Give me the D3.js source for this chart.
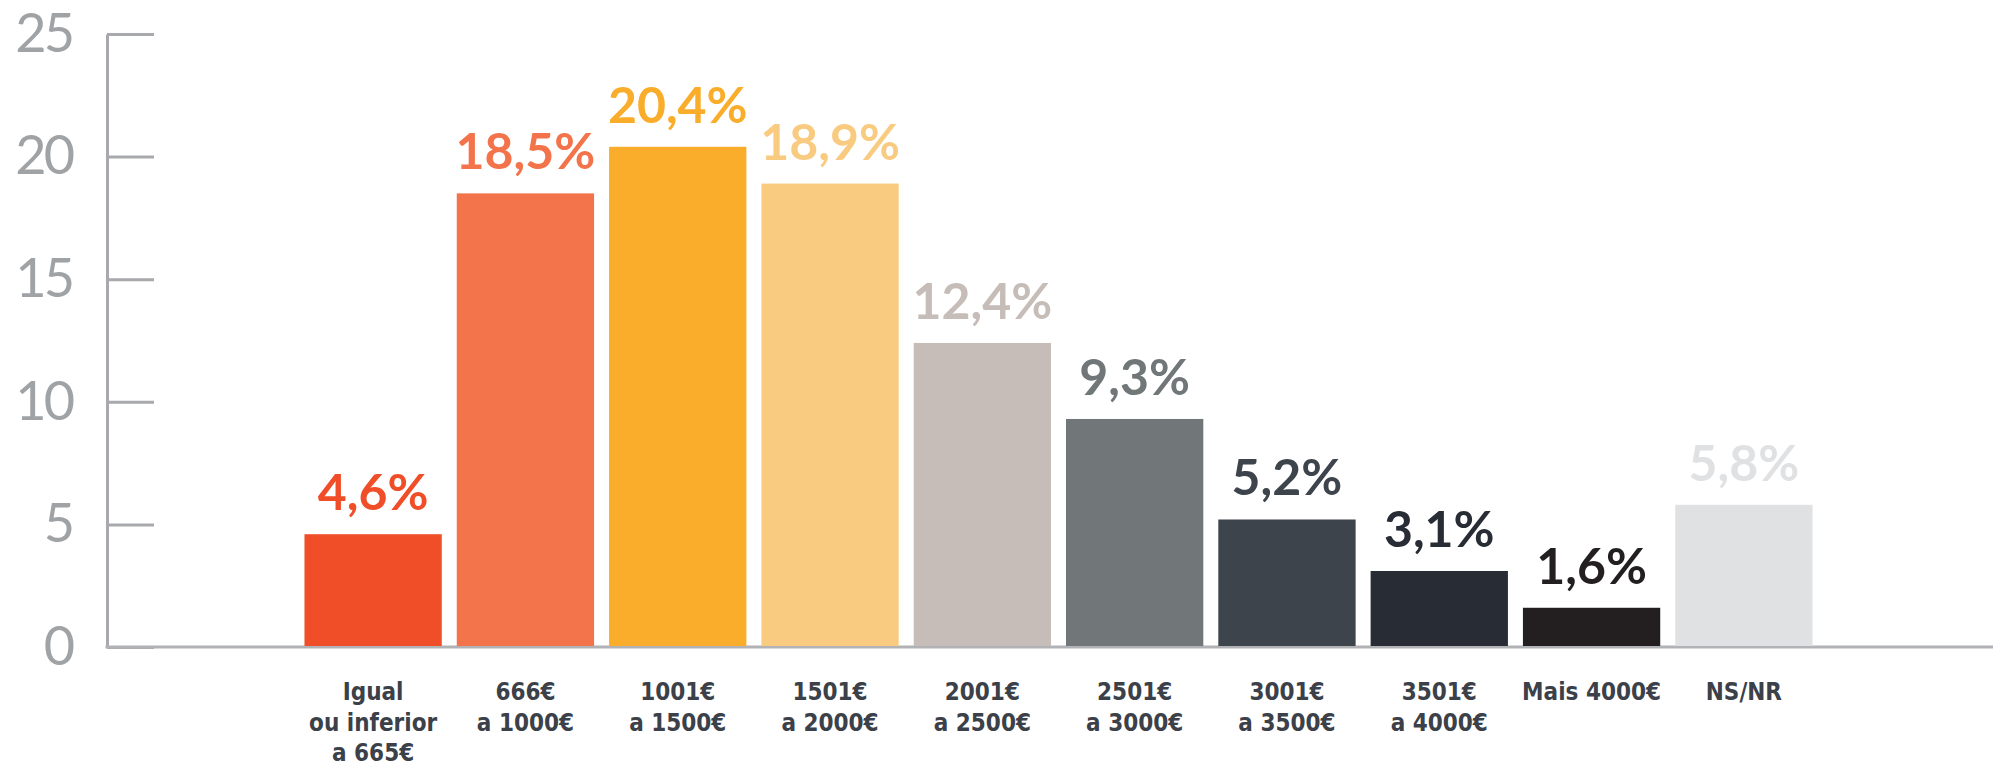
<!DOCTYPE html>
<html>
<head>
<meta charset="utf-8">
<script src="https://cdn.jsdelivr.net/npm/d3@7"></script>
<style>
  html, body { margin: 0; padding: 0; background: #ffffff; }
  svg { display: block; }
</style>
</head>
<body>
<svg id="chart" width="1993" height="766"></svg>
<script>
// ---- data ----
const categories = [
  "Igual\nou inferior\na 665€",
  "666€\na 1000€",
  "1001€\na 1500€",
  "1501€\na 2000€",
  "2001€\na 2500€",
  "2501€\na 3000€",
  "3001€\na 3500€",
  "3501€\na 4000€",
  "Mais 4000€",
  "NS/NR"
];
const values = [4.6, 18.5, 20.4, 18.9, 12.4, 9.3, 5.2, 3.1, 1.6, 5.8];
const barColors = ["#f04e29", "#f3734a", "#f9ad2a", "#f9cb80", "#c6bcb8",
                   "#717779", "#3d444c", "#282c34", "#231f20", "#e0e1e3"];
const yTicks = [0, 5, 10, 15, 20, 25];

// ---- layout ----
const W = 1993, H = 766;
const axisX = 107, baseY = 647, topY = 34;

const svg = d3.select("#chart");

const x = d3.scaleBand()
  .domain(d3.range(categories.length))
  .range([297, 1820])
  .paddingInner(0.0985)
  .paddingOuter(0.049);

const y = d3.scaleLinear().domain([0, 25]).range([baseY, topY]);

const locale = d3.formatLocale({ decimal: ",", thousands: ".", grouping: [3], currency: ["", "€"] });
const fmt = locale.format(".1f");

// y axis
const yAxis = d3.axisLeft(y)
  .tickValues(yTicks)
  .tickSize(-47)
  .tickSizeOuter(0)
  .tickPadding(35)
  .tickFormat(d3.format("d"));

const gy = svg.append("g")
  .attr("transform", `translate(${axisX},0)`)
  .call(yAxis);
gy.select(".domain").attr("stroke", "#a7a9ac").attr("stroke-width", 3);
gy.selectAll(".tick line").attr("stroke", "#a7a9ac").attr("stroke-width", 3);
gy.selectAll(".tick text")
  .attr("fill", "#a0a3a6")
  .style("font-family", "Lato, 'Open Sans', sans-serif")
  .style("font-weight", 400)
  .style("font-size", "54px")
  .style("letter-spacing", "-3px");

// baseline
svg.append("line")
  .attr("x1", axisX - 1.5).attr("x2", W)
  .attr("y1", y(0)).attr("y2", y(0))
  .attr("stroke", "#b0b2b5").attr("stroke-width", 3);

// bars
svg.append("g").selectAll("rect")
  .data(values)
  .join("rect")
  .attr("x", (d, i) => x(i))
  .attr("width", x.bandwidth())
  .attr("y", d => y(d))
  .attr("height", d => y(0) - y(d) - 1)
  .attr("fill", (d, i) => barColors[i]);

// value labels
svg.append("g").selectAll("text")
  .data(values)
  .join("text")
  .attr("x", (d, i) => x(i) + x.bandwidth() / 2)
  .attr("y", d => y(d) - 24)
  .attr("text-anchor", "middle")
  .attr("fill", (d, i) => barColors[i])
  .style("font-family", "Lato, 'Open Sans', sans-serif")
  .style("font-weight", 700)
  .style("font-size", "50px")
  .text(d => fmt(d) + "%");

// category labels
const cat = svg.append("g").selectAll("text")
  .data(categories)
  .join("text")
  .attr("x", (d, i) => x(i) + x.bandwidth() / 2)
  .attr("y", 700)
  .attr("text-anchor", "middle")
  .attr("fill", "#3b4049")
  .style("font-family", "'Liberation Sans Narrow', 'DejaVu Sans Condensed', sans-serif")
  .style("font-weight", 700)
  .style("font-size", "24px");
cat.each(function(d) {
  const t = d3.select(this);
  d.split("\n").forEach((line, k) => {
    t.append("tspan")
      .attr("x", t.attr("x"))
      .attr("dy", k === 0 ? 0 : 30.5)
      .text(line);
  });
});
</script>
</body>
</html>
